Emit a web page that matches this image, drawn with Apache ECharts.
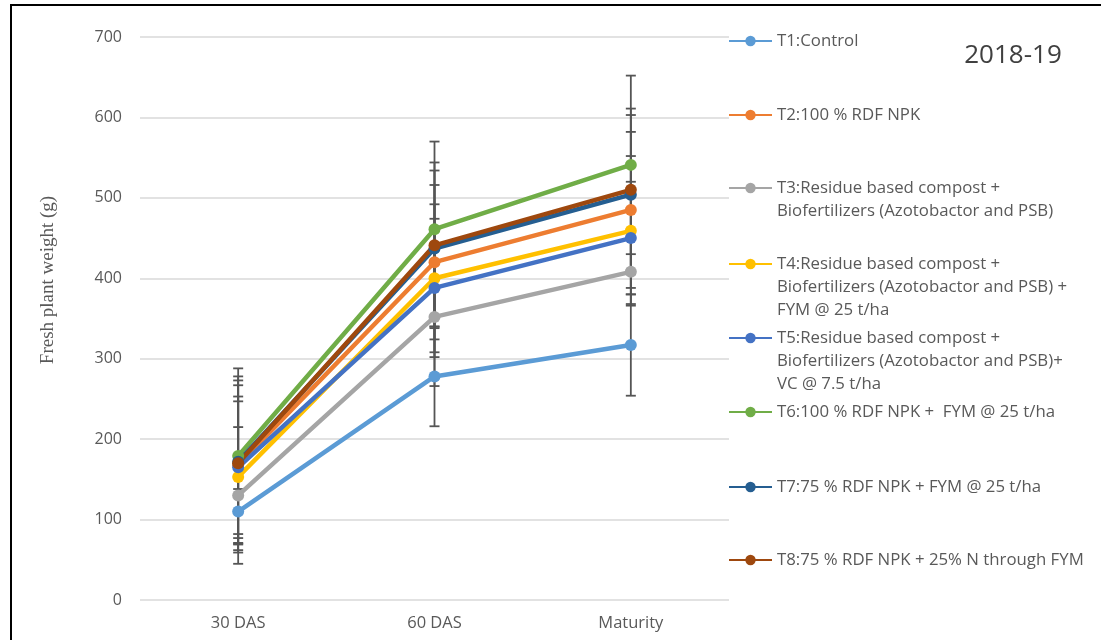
<!DOCTYPE html>
<html>
<head>
<meta charset="utf-8">
<script src="https://cdn.jsdelivr.net/npm/echarts@6/dist/echarts.min.js"></script>
<style>
html,body{margin:0;padding:0;background:#fff;}
#chart{width:1101px;height:640px;}
</style>
</head>
<body>
<div id="chart"></div>
<script>
const categories = ['30 DAS', '60 DAS', 'Maturity'];
const seriesNames = [
  'T1:Control',
  'T2:100 % RDF NPK',
  'T3:Residue based compost +\nBiofertilizers (Azotobactor and PSB)',
  'T4:Residue based compost +\nBiofertilizers (Azotobactor and PSB) +\nFYM @ 25 t/ha',
  'T5:Residue based compost +\nBiofertilizers (Azotobactor and PSB)+\nVC @ 7.5 t/ha',
  'T6:100 % RDF NPK +  FYM @ 25 t/ha',
  'T7:75 % RDF NPK + FYM @ 25 t/ha',
  'T8:75 % RDF NPK + 25% N through FYM'
];
const T1 = [110, 278, 317];
const T2 = [168, 420, 485];
const T3 = [130, 352, 408];
const T4 = [153, 400, 459];
const T5 = [165, 388, 450];
const T6 = [179, 461, 541];
const T7 = [172, 437, 504];
const T8 = [170, 441, 510];
const T1err = [28, 62, 63];
const T2err = [99, 96, 97];
const T3err = [85, 86, 40];
const T4err = [94, 92, 93];
const T5err = [88, 86, 70];
const T6err = [109, 109, 111];
const T7err = [101, 97, 99];
const T8err = [108, 103, 101];
const yTicks = [0, 100, 200, 300, 400, 500, 600, 700];

const values = [T1, T2, T3, T4, T5, T6, T7, T8];
const errors = [T1err, T2err, T3err, T4err, T5err, T6err, T7err, T8err];
const colors = ['#5B9BD5', '#ED7D31', '#A5A5A5', '#FFC000', '#4472C4', '#70AD47', '#255E91', '#9E480E'];
const legendCenters = [41, 115, 188, 264, 338, 412, 487, 560];

const chart = echarts.init(document.getElementById('chart'));
const LH = 23;
const IH = 13;

const legends = seriesNames.map((name, i) => {
  const n = name.split('\n').length;
  return {
    data: [name],
    left: 728,
    top: legendCenters[i] - (2 * n - 1) * LH / 2,
    padding: 0,
    itemWidth: 43,
    itemHeight: IH,
    selectedMode: false,
    formatter: function (nm) {
      let s = nm;
      for (let k = 1; k < n; k++) s = ' \n' + s;
      return s;
    },
    textStyle: {
      fontFamily: 'Open Sans',
      fontSize: 16.8,
      color: '#595959',
      lineHeight: LH
    }
  };
});

const errSeries = values.map((vals, i) => ({
  type: 'custom',
  name: 'err' + i,
  silent: true,
  z: 1,
  data: vals.map((v, j) => [j, v, errors[i][j]]),
  encode: { x: 0, y: 1 },
  renderItem: function (params, api) {
    const x = api.value(0), m = api.value(1), e = api.value(2);
    const hi = api.coord([x, m + e]);
    const lo = api.coord([x, m - e]);
    const hw = 5;
    const st = { stroke: '#555555', lineWidth: 1.8 };
    return {
      type: 'group',
      children: [
        { type: 'line', shape: { x1: hi[0], y1: hi[1], x2: lo[0], y2: lo[1] }, style: st },
        { type: 'line', shape: { x1: hi[0] - hw, y1: hi[1], x2: hi[0] + hw, y2: hi[1] }, style: st },
        { type: 'line', shape: { x1: lo[0] - hw, y1: lo[1], x2: lo[0] + hw, y2: lo[1] }, style: st }
      ]
    };
  }
}));

const lineSeries = values.map((vals, i) => ({
  type: 'line',
  name: seriesNames[i],
  data: vals,
  z: 3,
  symbol: 'circle',
  symbolSize: 12,
  lineStyle: { width: 4.5, color: colors[i] },
  itemStyle: { color: colors[i] },
  emphasis: { disabled: true }
}));

chart.setOption({
  animation: false,
  color: colors,
  grid: { left: 140, right: 372, top: 37, bottom: 40 },
  legend: legends,
  xAxis: {
    type: 'category',
    data: categories,
    boundaryGap: true,
    axisLine: { show: false },
    axisTick: { show: false },
    axisLabel: { fontFamily: 'Open Sans', fontSize: 16.5, color: '#595959', margin: 15 }
  },
  yAxis: {
    type: 'value',
    min: yTicks[0],
    max: yTicks[yTicks.length - 1],
    interval: 100,
    axisLine: { show: false },
    axisTick: { show: false },
    axisLabel: { fontFamily: 'Open Sans', fontSize: 16, color: '#595959', margin: 18 },
    splitLine: { lineStyle: { color: '#D9D9D9', width: 1.5 } }
  },
  graphic: [
    { type: 'line', shape: { x1: 10, y1: 5, x2: 1101, y2: 5 }, style: { stroke: '#000', lineWidth: 2 } },
    { type: 'line', shape: { x1: 11, y1: 5, x2: 11, y2: 640 }, style: { stroke: '#000', lineWidth: 2 } },
    {
      type: 'text', x: 48, y: 280, rotation: Math.PI / 2,
      style: { text: 'Fresh plant weight (g)', fontFamily: 'Liberation Serif', fontSize: 19, fill: '#595959', align: 'center', verticalAlign: 'middle' }
    },
    {
      type: 'text', x: 1013, y: 56,
      style: { text: '2018-19', fontFamily: 'Open Sans', fontSize: 26, fill: '#404040', align: 'center', verticalAlign: 'middle' }
    }
  ],
  series: errSeries.concat(lineSeries)
});
</script>
</body>
</html>
